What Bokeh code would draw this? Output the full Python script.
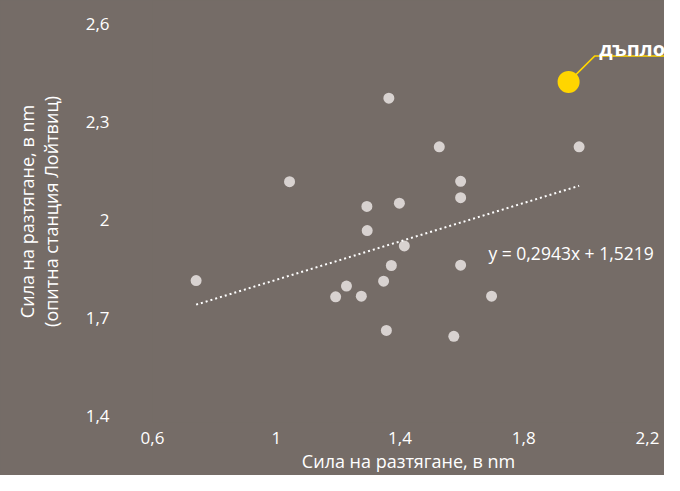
from bokeh.plotting import figure
from bokeh.models import FixedTicker, Label
from bokeh.embed import file_html
from bokeh.resources import INLINE

# ---- data ----
x_vals = [1.364, 1.043, 1.293, 1.398, 1.294, 1.414, 0.741, 1.372, 1.227, 1.347,
          1.192, 1.275, 1.356, 1.527, 1.979, 1.596, 1.596, 1.596, 1.696, 1.574]
y_vals = [2.373, 2.117, 2.041, 2.051, 1.967, 1.920, 1.814, 1.860, 1.797, 1.812,
          1.764, 1.766, 1.661, 2.224, 2.224, 2.118, 2.068, 1.861, 1.766, 1.643]
hl_x = [1.945]
hl_y = [2.423]
hl_text = "дъпло"
slope = 0.2943
intercept = 1.5219
eq_text = "y = 0,2943x + 1,5219"
x_ticks = [0.6, 1.0, 1.4, 1.8, 2.2]
x_tick_labels = ["0,6", "1", "1,4", "1,8", "2,2"]
y_ticks = [1.4, 1.7, 2.0, 2.3, 2.6]
y_tick_labels = ["1,4", "1,7", "2", "2,3", "2,6"]
x_title = "Сила на разтягане, в nm"
y_title = "Сила на разтягане, в nm\n(опитна станция Лойтвиц)"

BG = "#756c67"
PT = "#d8d2d0"
YEL = "#ffd500"
FONT = "Open Sans"

p = figure(width=664, height=475, output_backend="svg", toolbar_location=None,
           x_range=(0.6, 2.255), y_range=(1.3787, 2.6725),
           min_border_left=152, min_border_right=0, min_border_top=0,
           min_border_bottom=50,
           background_fill_color=BG, border_fill_color=BG, outline_line_color=None)
p.styles = {"background-color": BG}
p.grid.visible = False

for ax, ticks, labels in ((p.xaxis, x_ticks, x_tick_labels), (p.yaxis, y_ticks, y_tick_labels)):
    ax.ticker = FixedTicker(ticks=ticks)
    ax.major_label_overrides = {t: l for t, l in zip(ticks, labels)}
    ax.axis_line_color = None
    ax.major_tick_line_color = None
    ax.minor_tick_line_color = None
    ax.major_tick_out = 0
    ax.major_tick_in = 0
    ax.major_label_text_color = "white"
    ax.major_label_text_font = FONT
    ax.major_label_text_font_size = "17px"
    ax.axis_label_text_color = "white"
    ax.axis_label_text_font = FONT
    ax.axis_label_text_font_size = "18px"
    ax.axis_label_text_font_style = "normal"

p.xaxis.axis_label = x_title
p.xaxis.major_label_standoff = 9
p.xaxis.axis_label_standoff = 2
p.yaxis.axis_label = y_title
p.yaxis.major_label_standoff = 43
p.yaxis.axis_label_standoff = 20
p.yaxis.axis_label_text_line_height = 1.0

# points
p.scatter(x_vals, y_vals, size=11, fill_color=PT, line_color=None)

# trend line from the fit equation over the data's x-span
x0, x1 = min(x_vals), max(x_vals)
p.line([x0, x1], [slope * x0 + intercept, slope * x1 + intercept],
       line_color="white", line_width=2, line_dash="2 3")

# highlighted point with leader
elbow_x, elbow_y, end_x = 2.029, 2.502, 2.40
p.line([hl_x[0], elbow_x, end_x], [hl_y[0], elbow_y, elbow_y],
       line_color=YEL, line_width=1.5)
p.scatter(hl_x, hl_y, size=22, fill_color=YEL, line_color=None)

p.add_layout(Label(x=2.044, y=2.526, text=hl_text, text_color="white",
                   text_font=FONT, text_font_style="bold", text_font_size="20px",
                   text_baseline="alphabetic"))
p.add_layout(Label(x=1.686, y=1.899, text=eq_text, text_color="white",
                   text_font=FONT, text_font_size="17.5px", text_baseline="middle"))

open("out.html", "w").write(file_html(p, INLINE))
